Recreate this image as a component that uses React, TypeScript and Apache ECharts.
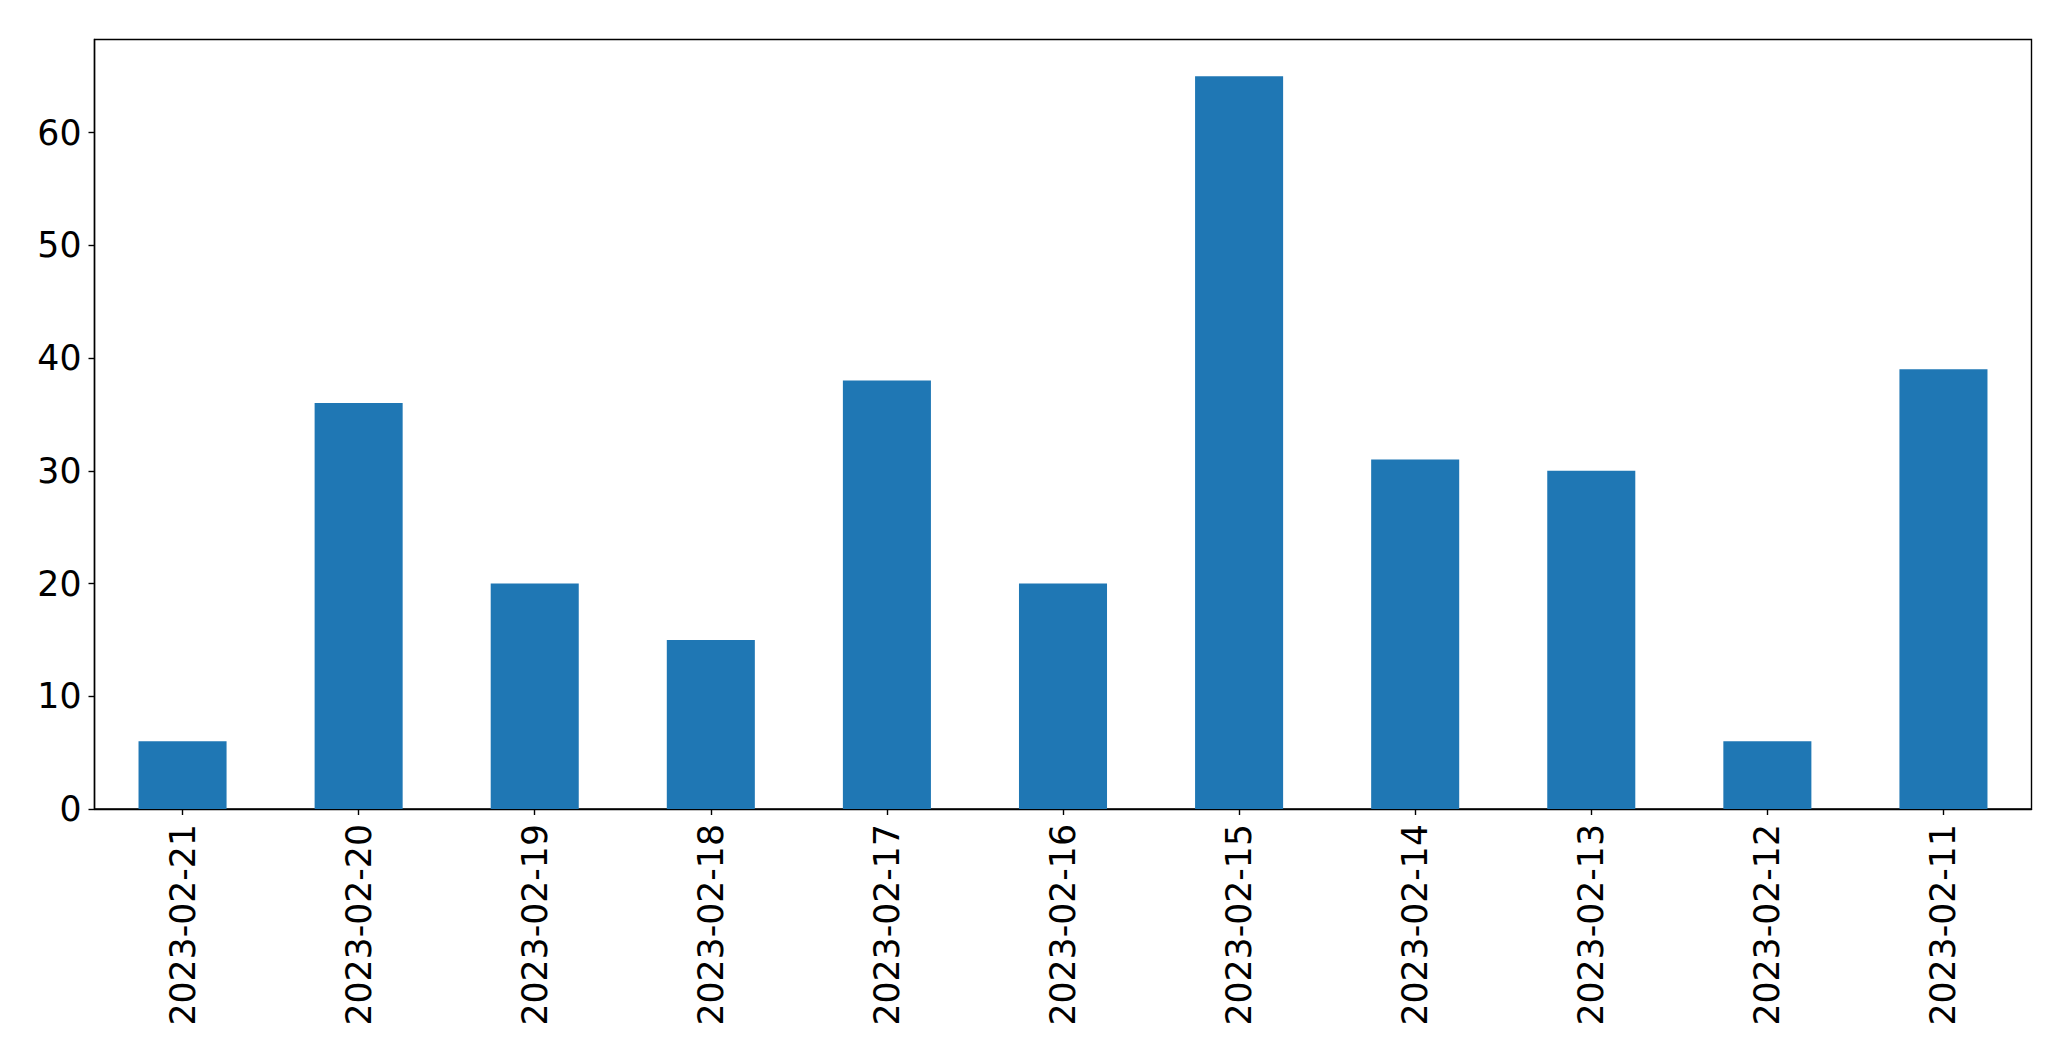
import React, { useEffect, useRef } from "react";
import * as echarts from "echarts";

const categories = [
  "2023-02-21",
  "2023-02-20",
  "2023-02-19",
  "2023-02-18",
  "2023-02-17",
  "2023-02-16",
  "2023-02-15",
  "2023-02-14",
  "2023-02-13",
  "2023-02-12",
  "2023-02-11",
];
const values = [6, 36, 20, 15, 38, 20, 65, 31, 30, 6, 39];
const yTicks = [0, 10, 20, 30, 40, 50, 60];
const yMax = 68.25;

const FONT = "DejaVu Sans";

export default function App() {
  const ref = useRef<HTMLDivElement>(null);
  useEffect(() => {
    if (!ref.current) return;
    const chart = echarts.init(ref.current, undefined, { renderer: "svg" });
    chart.setOption({
      animation: false,
      backgroundColor: "#ffffff",
      grid: {
        left: 94.5,
        top: 39.5,
        width: 1937,
        height: 769.5,
        show: true,
        borderColor: "#000000",
        borderWidth: 1.4,
        backgroundColor: "transparent",
      },
      xAxis: {
        type: "category",
        data: categories,
        boundaryGap: true,
        axisLine: { show: true, lineStyle: { color: "#000000", width: 1.4 } },
        axisTick: { show: true, alignWithLabel: true, length: 6, lineStyle: { color: "#000000", width: 1.4 } },
        axisLabel: {
          rotate: 90,
          interval: 0,
          margin: 15,
          fontFamily: FONT,
          fontSize: 34.7,
          color: "#000000",
        },
        splitLine: { show: false },
      },
      yAxis: {
        type: "value",
        min: 0,
        max: yMax,
        interval: 10,
        axisLine: { show: true, lineStyle: { color: "#000000", width: 1.4 } },
        axisTick: { show: true, length: 6, customValues: yTicks, lineStyle: { color: "#000000", width: 1.4 } },
        axisLabel: {
          customValues: yTicks,
          margin: 13,
          fontFamily: FONT,
          fontSize: 34.7,
          color: "#000000",
        },
        splitLine: { show: false },
      },
      series: [
        {
          type: "bar",
          data: values,
          barWidth: "50%",
          itemStyle: { color: "#1f77b4" },
        },
      ],
    });
    return () => chart.dispose();
  }, []);
  return (
    <div
      ref={ref}
      style={{ position: "fixed", left: 0, top: 0, width: 2071, height: 1061, background: "#fff" }}
    />
  );
}
